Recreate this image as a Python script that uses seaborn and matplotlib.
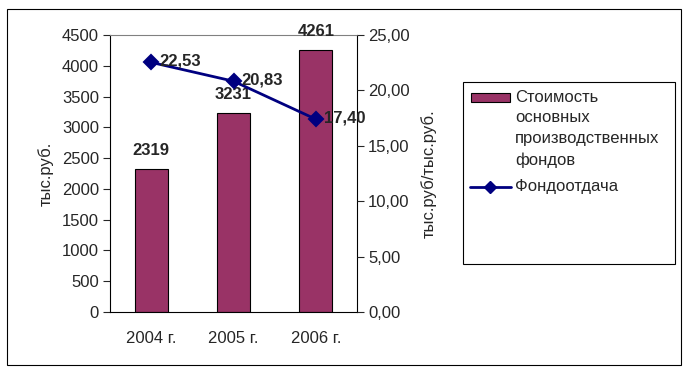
import seaborn as sns
import matplotlib.pyplot as plt
import matplotlib.patches as mpatches
import matplotlib.lines as mlines
import pandas as pd

# Data
years = ["2004 г.", "2005 г.", "2006 г."]
funds_cost = [2319, 3231, 4261]          # тыс.руб.
fund_return = [22.53, 20.83, 17.40]      # тыс.руб/тыс.руб.
legend_bar = ["Стоимость", "основных", "производственных", "фондов"]
legend_line = "Фондоотдача"

df = pd.DataFrame({"year": years, "cost": funds_cost, "ret": fund_return})

sns.set_style("white")
plt.rcParams["font.family"] = ["Liberation Sans", "DejaVu Sans"]

bar_color = "#993366"
line_color = "#000080"
fs = 12

fig = plt.figure(figsize=(6.89, 3.73), dpi=100)
W, H = 689, 373


def fx(px):
    return px / W


def fy(py):
    return 1 - py / H


# outer frame
fig.patches.append(mpatches.Rectangle((fx(7), fy(365)), 674 / W, 356 / H,
                                      transform=fig.transFigure, fill=False,
                                      edgecolor="black", linewidth=0.8))

ax = fig.add_axes([fx(110), fy(312), 247 / W, 277 / H])
sns.barplot(data=df, x="year", y="cost", color=bar_color, width=0.4,
            edgecolor="black", linewidth=0.8, saturation=1, ax=ax)
ax.set_xlim(-0.5, 2.5)
ax.set_ylim(0, 4500)
ax.set_yticks(range(0, 4501, 500))
ax.set_xlabel("")
ax.set_ylabel("тыс.руб.", fontsize=fs, labelpad=6)
ax.tick_params(axis="y", direction="out", length=5, width=0.8, labelsize=fs, left=True, pad=3)
ax.set_xticks([0, 1, 2])
ax.set_xticks([-0.5, 0.5, 1.5, 2.5], minor=True)
ax.tick_params(axis="x", which="major", length=0, labelsize=fs, pad=14)
ax.tick_params(axis="x", which="minor", direction="out", length=5, width=0.8)
for s in ["left", "bottom", "right"]:
    ax.spines[s].set_color("black")
    ax.spines[s].set_linewidth(0.8)
ax.spines["top"].set_color("#808080")
ax.spines["top"].set_linewidth(0.8)

for i, v in enumerate(funds_cost):
    ax.annotate(str(v), (i, v), xytext=(0, 8), textcoords="offset points",
                ha="center", va="bottom", fontsize=fs, fontweight="bold")

ax2 = ax.twinx()
sns.pointplot(data=df, x="year", y="ret", color=line_color, markers="D",
              markersize=7, linewidth=2, ax=ax2)
ax2.set_xlim(-0.5, 2.5)
ax2.set_ylim(0, 25)
ax2.set_yticks(range(0, 26, 5))
ax2.set_yticklabels([f"{t:.2f}".replace(".", ",") for t in range(0, 26, 5)])
ax2.set_ylabel("тыс.руб/тыс.руб.", fontsize=fs, labelpad=8)
ax2.tick_params(axis="y", direction="out", length=5, width=0.8, labelsize=fs, right=True, pad=3)
ax2.set_xlabel("")
for s in ax2.spines.values():
    s.set_visible(False)

for i, v in enumerate(fund_return):
    ax2.annotate(f"{v:.2f}".replace(".", ","), (i, v), xytext=(6, 1),
                 textcoords="offset points", ha="left", va="center",
                 fontsize=fs, fontweight="bold")

# legend drawn by hand to match the original layout
fig.patches.append(mpatches.Rectangle((fx(463), fy(264)), 212 / W, 182 / H,
                                      transform=fig.transFigure, fill=False,
                                      edgecolor="black", linewidth=0.8))
fig.patches.append(mpatches.Rectangle((fx(471), fy(102)), 39 / W, 9 / H,
                                      transform=fig.transFigure,
                                      facecolor=bar_color, edgecolor="black",
                                      linewidth=0.8))
for k, line in enumerate(legend_bar):
    fig.text(fx(515), fy(97 + 21 * k), line, fontsize=fs, va="center", ha="left")
fig.lines.append(mlines.Line2D([fx(470), fx(511)], [fy(187), fy(187)],
                               transform=fig.transFigure, color=line_color,
                               linewidth=2))
fig.lines.append(mlines.Line2D([fx(490)], [fy(187)], transform=fig.transFigure,
                               color=line_color, marker="D", markersize=6))
fig.text(fx(515), fy(186), legend_line, fontsize=fs, va="center", ha="left")

fig.savefig("out.png", dpi=100)
